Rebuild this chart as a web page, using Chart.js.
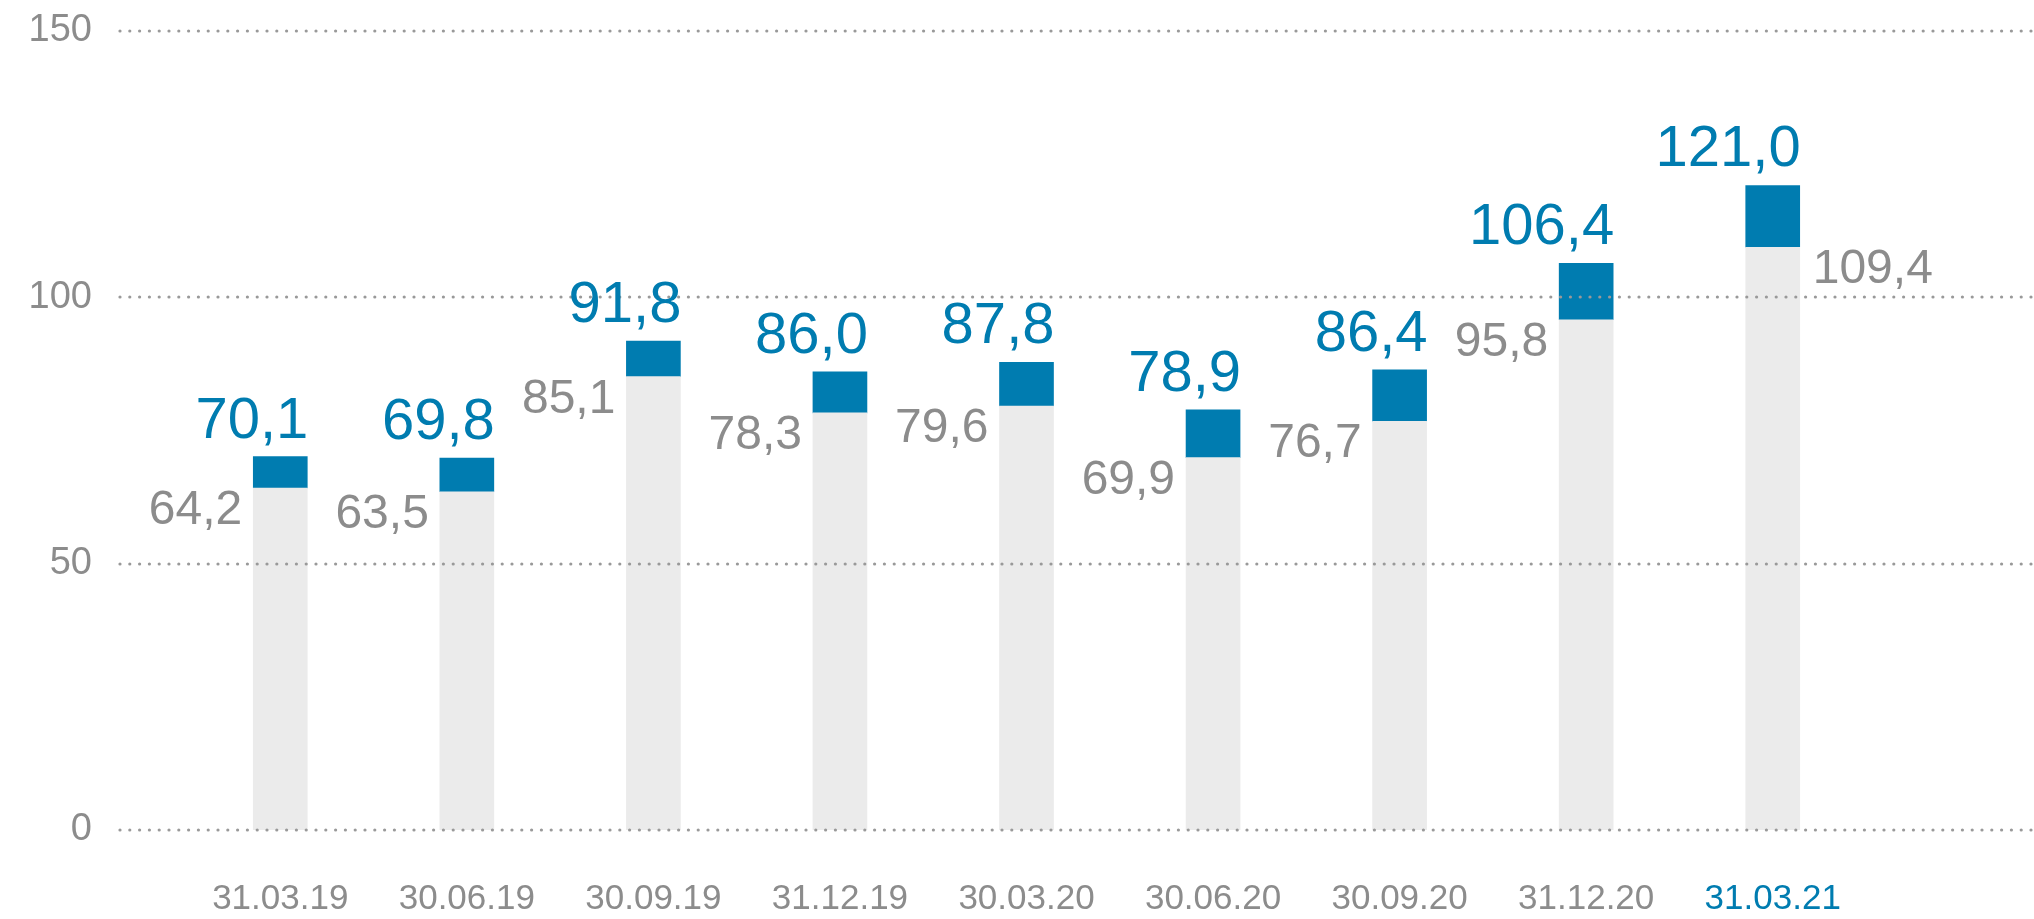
<!DOCTYPE html>
<html lang="en">
<head>
  <meta charset="UTF-8">
  <title>Quarterly values</title>
  <style>
    *{margin:0;padding:0;box-sizing:border-box;}
    body{background:#fff;}
    #chart-box{position:relative;width:2034px;height:919px;}
  </style>
  <script src="https://cdn.jsdelivr.net/npm/chart.js@4.4.0/dist/chart.umd.min.js"></script>
</head>
<body>
  <div id="chart-box"><canvas id="chart"></canvas></div>
  <script>
    // data
    const labels = ["31.03.19","30.06.19","30.09.19","31.12.19","30.03.20","30.06.20","30.09.20","31.12.20","31.03.21"];
    const baseValues  = [64.2, 63.5, 85.1, 78.3, 79.6, 69.9, 76.7, 95.8, 109.4];
    const totalValues = [70.1, 69.8, 91.8, 86.0, 87.8, 78.9, 86.4, 106.4, 121.0];
    const yTicks = [0, 50, 100, 150];

    const BLUE = "#007CB0", GREY_BAR = "#EBEBEB", GREY_TXT = "#8C8C8C", DOTS = "#999999";
    const FONT = '"Liberation Sans", Arial, sans-serif';
    const fmt = v => v.toFixed(1).replace(".", ",");

    // dotted grid, drawn on top of the bars and wider than the plot area
    const dottedGrid = {
      id: "dottedGrid",
      afterDatasetsDraw(chart) {
        const {ctx, scales:{y}} = chart;
        ctx.save();
        ctx.fillStyle = DOTS;
        yTicks.forEach(v => {
          const py = Math.round(y.getPixelForValue(v));
          for (let px = 120; px < chart.width; px += 9.8) {
            ctx.beginPath();
            ctx.arc(px, py, 1.6, 0, Math.PI*2);
            ctx.fill();
          }
        });
        ctx.restore();
      }
    };

    const valueLabels = {
      id: "valueLabels",
      afterDatasetsDraw(chart) {
        const ctx = chart.ctx;
        const baseMeta = chart.getDatasetMeta(0), topMeta = chart.getDatasetMeta(1);
        ctx.save();
        ctx.textBaseline = "alphabetic";
        baseMeta.data.forEach((bar, i) => {
          const last = i === labels.length - 1;
          ctx.font = "48px " + FONT;
          ctx.fillStyle = GREY_TXT;
          ctx.textAlign = last ? "left" : "right";
          const gx = last ? bar.x + bar.width/2 + 13 : bar.x - bar.width/2 - 11;
          ctx.fillText(fmt(baseValues[i]), gx, bar.y + 36);

          const top = topMeta.data[i];
          ctx.font = "58px " + FONT;
          ctx.fillStyle = BLUE;
          ctx.textAlign = "right";
          ctx.fillText(fmt(totalValues[i]), top.x + top.width/2 + 1, top.y - 19);
        });
        ctx.restore();
      }
    };

    new Chart(document.getElementById("chart"), {
      type: "bar",
      data: {
        labels,
        datasets: [
          { data: baseValues, backgroundColor: GREY_BAR, barThickness: 54 },
          { data: totalValues.map((t, i) => +(t - baseValues[i]).toFixed(1)), backgroundColor: BLUE, barThickness: 54 }
        ]
      },
      options: {
        responsive: true,
        maintainAspectRatio: false,
        animation: false,
        layout: { padding: { left: 31, right: 168, top: 0, bottom: 0 } },
        plugins: { legend: { display: false }, tooltip: { enabled: false } },
        scales: {
          x: {
            stacked: true,
            grid: { display: false, drawTicks: false },
            border: { display: false },
            ticks: {
              padding: 48,
              font: { family: FONT, size: 35 },
              color: c => c.index === labels.length - 1 ? BLUE : GREY_TXT
            },
            afterFit: s => { s.height = 89; s.paddingLeft = 0; s.paddingRight = 0; }
          },
          y: {
            stacked: true,
            min: 0, max: 150,
            grid: { display: false, drawTicks: false },
            border: { display: false },
            ticks: {
              stepSize: 50,
              padding: 95,
              font: { family: FONT, size: 38 },
              color: GREY_TXT
            },
            afterFit: s => { s.width = 156; s.paddingTop = 31; s.paddingBottom = 0; }
          }
        }
      },
      plugins: [dottedGrid, valueLabels]
    });
  </script>
</body>
</html>
